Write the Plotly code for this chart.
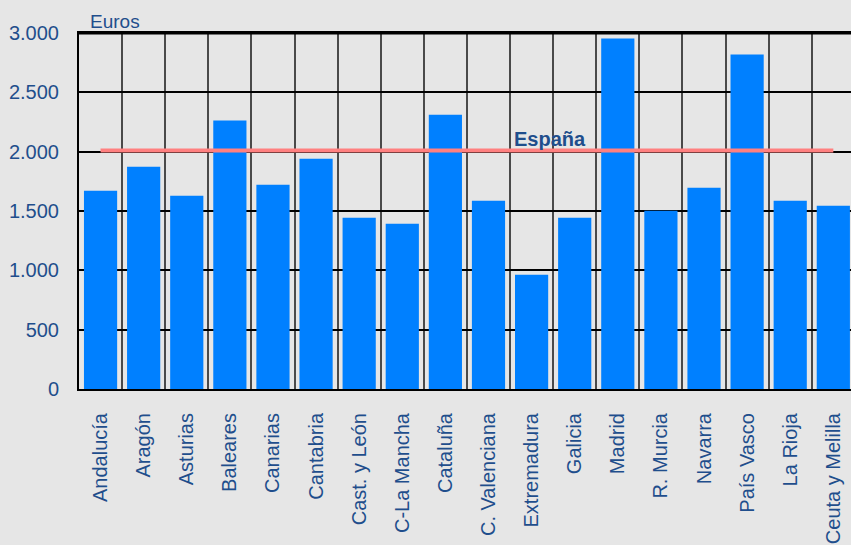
import plotly.graph_objects as go

categories = ["Andalucía", "Aragón", "Asturias", "Baleares", "Canarias", "Cantabria",
              "Cast. y León", "C-La Mancha", "Cataluña", "C. Valenciana", "Extremadura",
              "Galicia", "Madrid", "R. Murcia", "Navarra", "País Vasco", "La Rioja",
              "Ceuta y Melilla"]
values = [1670, 1873, 1629, 2262, 1722, 1941, 1443, 1392, 2312, 1587, 962, 1443,
          2954, 1502, 1696, 2819, 1587, 1544]
espana_value = 2010
espana_label = "España"
y_ticks = [0, 500, 1000, 1500, 2000, 2500, 3000]

text_color = "#1f4e8c"
bg = "#e6e6e6"
font_family = "Liberation Sans, Arial"

fig = go.Figure()
fig.add_trace(go.Bar(
    x=categories, y=values, width=0.77,
    marker=dict(color="#0080ff", line=dict(width=0)),
    showlegend=False, hoverinfo="x+y",
))
fig.add_trace(go.Scatter(
    x=[categories[0], categories[-1]], y=[espana_value, espana_value],
    mode="lines", line=dict(color="#ff8080", width=4), showlegend=False,
))
fig.add_annotation(
    x=10.43, y=espana_value, xref="x", yref="y", text="<b>" + espana_label + "</b>",
    showarrow=False, yanchor="bottom", yshift=-2,
    font=dict(family=font_family, size=20, color=text_color),
)
fig.add_annotation(
    x=0.012, y=1.0, xref="paper", yref="paper", text="Euros", showarrow=False,
    xanchor="left", yanchor="bottom", yshift=-1,
    font=dict(family=font_family, size=19, color=text_color),
)

fig.update_layout(
    width=851, height=545,
    margin=dict(l=79, r=0, t=33, b=156),
    paper_bgcolor=bg, plot_bgcolor=bg,
    separators=",.",
    font=dict(family=font_family, color=text_color),
)
fig.update_xaxes(
    range=[-0.5, 17.41], tickson="boundaries", showgrid=True, gridcolor="#4a4a4a",
    gridwidth=1.5, ticks="", tickangle=-90, ticklabelstandoff=14,
    tickfont=dict(size=20, color=text_color), showline=True, linecolor="black",
    linewidth=2, mirror=True, fixedrange=True, automargin=False,
)
fig.update_yaxes(
    range=[0, 3000], tickvals=y_ticks, tickformat=",d", showgrid=True,
    gridcolor="black", gridwidth=1.5, ticks="", ticklabelstandoff=14,
    tickfont=dict(size=20, color=text_color), showline=True, linecolor="black",
    linewidth=2, zeroline=False, fixedrange=True, automargin=False,
)
fig.add_shape(type="line", xref="paper", yref="paper", x0=0, x1=1, y0=1, y1=1,
              line=dict(color="black", width=3))

fig.write_html("out.html", config={"displayModeBar": False},
               post_script="document.body.style.margin='0';")
